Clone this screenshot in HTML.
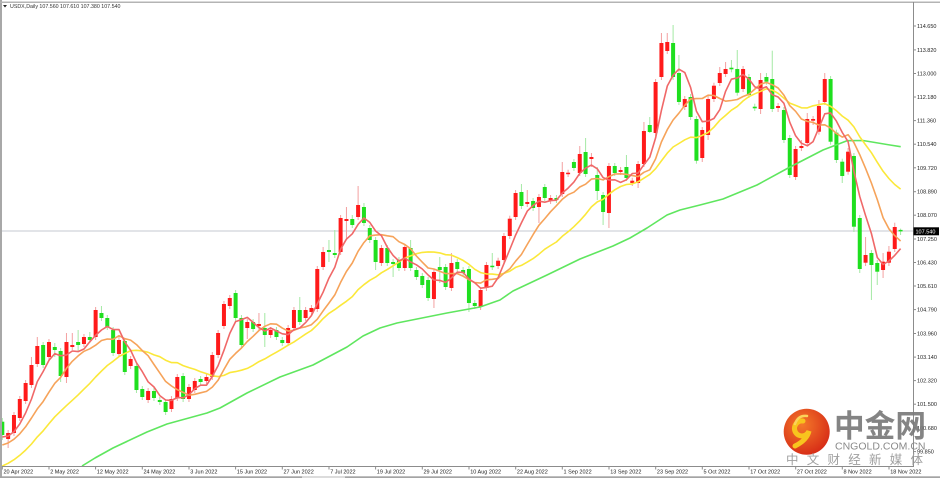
<!DOCTYPE html>
<html><head><meta charset="utf-8">
<style>
html,body{margin:0;padding:0;background:#fff;width:940px;height:478px;overflow:hidden}
svg{display:block}
text{font-family:"Liberation Sans",sans-serif}
.ax{font-size:5.5px;fill:#222}
.cj{font-family:"Liberation Sans","Noto Sans CJK SC",sans-serif}
</style></head><body>
<svg id="s" width="940" height="478" viewBox="0 0 940 478" xmlns="http://www.w3.org/2000/svg">
<defs>
<clipPath id="pc"><rect x="2" y="3" width="911" height="463"/></clipPath>
<radialGradient id="lg" cx="40%" cy="35%" r="70%"><stop offset="0" stop-color="#f47a2a"/><stop offset="1" stop-color="#d62a16"/></radialGradient>
</defs>
<rect width="940" height="478" fill="#fff"/>
<line x1="2" y1="231" x2="913" y2="231" stroke="#c4cad2" stroke-width="1"/>
<g id="plot" clip-path="url(#pc)"></g>

<!-- frame -->
<rect x="0" y="0" width="2" height="478" fill="#a8a8a8"/>
<rect x="0" y="1.5" width="940" height="1.5" fill="#b4b4b4"/>
<line x1="913.5" y1="2" x2="913.5" y2="467" stroke="#8c8c8c" stroke-width="1"/>
<line x1="2" y1="466.5" x2="913.5" y2="466.5" stroke="#8c8c8c" stroke-width="1"/>
<rect x="0" y="476.3" width="940" height="1.7" fill="#a4a4a4"/>
<rect x="302" y="476.3" width="43" height="1.7" fill="#dcdcdc"/>

<!-- header -->
<path d="M3 5 L7 5 L5 7.5 Z" fill="#222"/>
<text x="10" y="8" style="font-size:5.3px;fill:#333">USDX,Daily  107.560 107.610 107.380 107.540</text>

<!-- right axis -->
<g stroke="#8c8c8c" stroke-width="1">
<line x1="913.5" x2="916" y1="26" y2="26"/><line x1="913.5" x2="916" y1="49.9" y2="49.9"/><line x1="913.5" x2="916" y1="73.5" y2="73.5"/><line x1="913.5" x2="916" y1="97" y2="97"/><line x1="913.5" x2="916" y1="120.6" y2="120.6"/><line x1="913.5" x2="916" y1="144.2" y2="144.2"/><line x1="913.5" x2="916" y1="167.8" y2="167.8"/><line x1="913.5" x2="916" y1="191.7" y2="191.7"/><line x1="913.5" x2="916" y1="215.2" y2="215.2"/><line x1="913.5" x2="916" y1="239" y2="239"/><line x1="913.5" x2="916" y1="262.5" y2="262.5"/><line x1="913.5" x2="916" y1="286" y2="286"/><line x1="913.5" x2="916" y1="309.6" y2="309.6"/><line x1="913.5" x2="916" y1="333.5" y2="333.5"/><line x1="913.5" x2="916" y1="357.1" y2="357.1"/><line x1="913.5" x2="916" y1="380.6" y2="380.6"/><line x1="913.5" x2="916" y1="404.2" y2="404.2"/><line x1="913.5" x2="916" y1="427.8" y2="427.8"/><line x1="913.5" x2="916" y1="451.6" y2="451.6"/>
</g>
<g class="ax">
<text x="917" y="28">114.650</text>
<text x="917" y="51.9">113.820</text>
<text x="917" y="75.5">113.000</text>
<text x="917" y="99">112.180</text>
<text x="917" y="122.6">111.360</text>
<text x="917" y="146.2">110.540</text>
<text x="917" y="169.8">109.720</text>
<text x="917" y="193.7">108.890</text>
<text x="917" y="217.2">108.070</text>
<text x="917" y="241">107.250</text>
<text x="917" y="264.5">106.430</text>
<text x="917" y="288">105.610</text>
<text x="917" y="311.6">104.790</text>
<text x="917" y="335.5">103.960</text>
<text x="917" y="359.1">103.140</text>
<text x="917" y="382.6">102.320</text>
<text x="917" y="406.2">101.500</text>
<text x="917" y="429.8">100.680</text>
<text x="917" y="453.6">99.850</text>
</g>
<rect x="913.5" y="227.3" width="25.5" height="8" fill="#000"/>
<text x="915.5" y="233.4" style="font-size:5.5px;fill:#fff">107.540</text>

<!-- bottom axis -->
<g stroke="#8c8c8c" stroke-width="1">
<line x1="2.3" x2="2.3" y1="466.5" y2="469.5"/><line x1="49" x2="49" y1="466.5" y2="469.5"/><line x1="95.6" x2="95.6" y1="466.5" y2="469.5"/><line x1="142.3" x2="142.3" y1="466.5" y2="469.5"/><line x1="189" x2="189" y1="466.5" y2="469.5"/><line x1="235.6" x2="235.6" y1="466.5" y2="469.5"/><line x1="282.3" x2="282.3" y1="466.5" y2="469.5"/><line x1="329" x2="329" y1="466.5" y2="469.5"/><line x1="375.6" x2="375.6" y1="466.5" y2="469.5"/><line x1="422.3" x2="422.3" y1="466.5" y2="469.5"/><line x1="469" x2="469" y1="466.5" y2="469.5"/><line x1="515.7" x2="515.7" y1="466.5" y2="469.5"/><line x1="562.3" x2="562.3" y1="466.5" y2="469.5"/><line x1="609" x2="609" y1="466.5" y2="469.5"/><line x1="655.7" x2="655.7" y1="466.5" y2="469.5"/><line x1="702.3" x2="702.3" y1="466.5" y2="469.5"/><line x1="749" x2="749" y1="466.5" y2="469.5"/><line x1="795.7" x2="795.7" y1="466.5" y2="469.5"/><line x1="842.3" x2="842.3" y1="466.5" y2="469.5"/><line x1="889" x2="889" y1="466.5" y2="469.5"/>
</g>
<g class="ax">
<text x="3.5" y="473.6">20 Apr 2022</text>
<text x="50.2" y="473.6">2 May 2022</text>
<text x="96.8" y="473.6">12 May 2022</text>
<text x="143.5" y="473.6">24 May 2022</text>
<text x="190.2" y="473.6">3 Jun 2022</text>
<text x="236.8" y="473.6">15 Jun 2022</text>
<text x="283.5" y="473.6">27 Jun 2022</text>
<text x="330.2" y="473.6">7 Jul 2022</text>
<text x="376.8" y="473.6">19 Jul 2022</text>
<text x="423.5" y="473.6">29 Jul 2022</text>
<text x="470.2" y="473.6">10 Aug 2022</text>
<text x="516.9" y="473.6">22 Aug 2022</text>
<text x="563.5" y="473.6">1 Sep 2022</text>
<text x="610.2" y="473.6">13 Sep 2022</text>
<text x="656.9" y="473.6">23 Sep 2022</text>
<text x="703.5" y="473.6">5 Oct 2022</text>
<text x="750.2" y="473.6">17 Oct 2022</text>
<text x="796.9" y="473.6">27 Oct 2022</text>
<text x="843.5" y="473.6">8 Nov 2022</text>
<text x="890.2" y="473.6">18 Nov 2022</text>
</g>

<!-- watermark -->
<g>
<circle cx="806.7" cy="431.7" r="23" fill="url(#lg)"/>
<path d="M803 421 a7.5 7.5 0 1 0 6 10 q-2 9 -14 15" stroke="#f8c41e" stroke-width="5" fill="none" stroke-linecap="round"/>
<path d="M795 424 q3 -9 12 -8" stroke="#fbd35a" stroke-width="2.5" fill="none" stroke-linecap="round"/>
<text class="cj" x="834" y="437" style="font-size:31px;font-weight:bold;fill:#7a7a7a;fill-opacity:0.92" textLength="92" lengthAdjust="spacingAndGlyphs">中金网</text>
<text x="835" y="449.3" style="font-size:10.5px;fill:#8a8a8a" textLength="90.5" lengthAdjust="spacingAndGlyphs">CNGOLD.COM.CN</text>
<text class="cj" x="786" y="464" style="font-size:12.5px;fill:#a0a0a0" textLength="137" lengthAdjust="spacing">中 文 财 经 新 媒 体</text>
</g>
</svg>
<script>
var D=[
[0,421.7,435,418,440],[1,433,439,430,448],[1,415,433],[1,399,418],[1,383,401],[1,365,385,357],[1,346,364,337],[0,345,365],[1,342,357],[0,347,350,343,357],
[0,351,376,0,382],[1,342,377,333,383],[1,345,347,333],[0,342,345,330,352],[1,337,344],[0,337,340,332],[1,310,337],[0,313,318,306],[0,318,327],[0,330,353],
[1,340,354],[0,341,372],[1,359,366],[0,366,390],[0,389,397],[1,391,400],[0,391,398],[0,400,402],[0,402,412],[1,399,409],
[1,377,398],[0,376,399],[1,387,399],[1,381,390],[0,379,382],[1,377,381],[1,355,377],[1,333,355],[1,304,326],[1,298,306],
[0,293,318,290],[0,318,345],[1,322,328,0,339],[0,322,329],[1,324,326,313,330],[0,328,335,313,347],[1,330,335],[0,330,337],[0,340,343],[1,328,343],
[1,310,328],[0,310,322,297],[1,310,318],[1,308,312],[1,269,309],[1,252,267,247],[0,250,252,240,262],[0,253,255,230],[1,218,252],[1,219,221,207,240],
[0,219,225,215],[1,205,217,186],[0,207,223,203],[0,228,240],[0,240,262,0,270],[1,248,263],[0,248,263],[0,262,264,0,277],[0,260,268],[1,247,268],
[0,248,268,240],[0,270,277],[0,276,285],[0,280,298],[1,272,299,0,308],[0,267,270,257,283],[0,267,287],[1,263,288,253],[0,262,269],[0,270,273],
[0,269,303,0,312],[0,303,306],[1,290,307,0,310],[1,265,288],[0,265.7,267,253],[1,260.7,266],[1,236,260],[1,218.7,236],[1,193,217],[0,192,206,184],
[1,202,204,190],[0,201,208],[1,197,207,0,223],[0,187,198],[1,198,201],[0,198,200],[1,172,194,162],[1,172.7,174],[0,162,168],[1,154,173,146],
[0,152,174,138],[1,157,159,153,167],[0,175,191,167,200],[0,195,212,0,225],[1,166,213,0,228],[0,166,173],[1,170,172],[0,167,178,155],[1,180.7,183],[1,164,183,0,188],
[1,131,164,122],[0,125,132,117,133],[1,82,133],[1,43,77,33],[1,42,51,33],[0,43,77,25],[0,73,102,55],[1,99,107],[0,97,117,0,120],[0,119,160.7],
[1,130,158,0,162],[1,99,135,0,140],[1,85.7,99],[1,73,83,67],[1,69,74,62],[0,67.7,69.3,60],[0,69,92.7,50],[1,69,89],[0,77,95],[0,106.7,108.3,0,111],
[1,80,109,73,114],[0,77,81.7,73],[0,79,109,50.7],[1,106,108,103,112],[0,110,140],[0,138,175],[1,149,177,0,180],[1,146,148,140],[1,119,143,113],[1,119,120.7,0,125],
[1,106,131.7,100],[1,79,102,73],[0,79,141.7],[0,132.7,160],[0,161.7,176,0,183],[1,151.7,171.7,148],[0,156,226.7,0,232],[0,218,269,0,273],[1,255,262.7,237,266],[0,253,265,0,300],
[0,263,271.7,0,285],[1,261.7,270,253,278],[1,251.7,262.7,246,266],[1,227,249,222.7],[0,229.9,231,228.6,235]
];
function X(i){return 2.3+5.833*i;}
var cl=[],k,i;
for(k=0;k<10;k++)cl.push(487);for(k=0;k<5;k++)cl.push(453);for(k=0;k<4;k++)cl.push(437.5);
for(i=0;i<D.length;i++){var d=D[i];cl.push(d[0]?d[1]:d[2]);}
var P='';
for(i=0;i<D.length;i++){
 var d=D[i],x=X(i).toFixed(2),t=d[1],b=d[2],wt=d[3]||t-3,wb=d[4]||b+3,r=d[0];
 P+='<line x1="'+x+'" x2="'+x+'" y1="'+wt+'" y2="'+wb+'" stroke="'+(r?'#f3a0a0':'#a4e9a4')+'" stroke-width="1"/>';
}
for(i=0;i<D.length;i++){
 var d=D[i],x=X(i),t=d[1],b=d[2],r=d[0];
 var h=Math.max(b-t,1.5);
 P+='<rect x="'+(x-2).toFixed(2)+'" y="'+t+'" width="4" height="'+h.toFixed(2)+'" fill="'+(r?'#ff1a1a':'#1fdf1f')+'"/>';
}
function ma(n,col,w){var pts=[];for(var i=0;i<D.length;i++){var s=0;for(var k=0;k<n;k++)s+=cl[i+19-k];pts.push(X(i).toFixed(1)+','+(s/n).toFixed(1));}
 return '<polyline fill="none" stroke="'+col+'" stroke-width="'+w+'" stroke-linejoin="round" points="'+pts.join(' ')+'"/>';}
P+='<polyline fill="none" stroke="#5fe65f" stroke-width="1.6" stroke-linejoin="round" points="82,466 95,458 113,448 147,432 167,424 207,413 220,408 247,393 280,377 313,365 347,347 363,336 380,328 397,323 447,313 480,307 500,300 513,291 547,275 580,259 613,246 630,238 647,228 667,215 680,210 700,205 723,199 757,185 790,167 823,150 847,140.7 863,140.5 890,145 900.7,146.7"/>';
P+=ma(20,'#fbe83a',1.6);
P+=ma(10,'#f6a35a',1.6);
P+=ma(5,'#f06868',1.6);
document.getElementById('plot').innerHTML=P;
</script>
</body></html>
